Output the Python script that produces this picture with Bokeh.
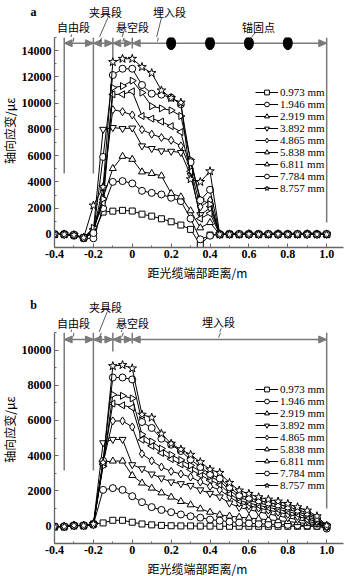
import math
from bokeh.plotting import figure
from bokeh.layouts import column, row
from bokeh.models import FixedTicker
from bokeh.core.properties import value
from bokeh.embed import file_html
from bokeh.resources import INLINE

# ---------------- data ----------------
distance = [-0.4, -0.35, -0.3, -0.25, -0.2, -0.15, -0.1, -0.05, 0.0, 0.05, 0.1, 0.15, 0.2,
            0.25, 0.3, 0.35, 0.4, 0.45, 0.5, 0.55, 0.6, 0.65, 0.7, 0.75, 0.8, 0.85, 0.9, 0.95, 1.0]

labels = ["0.973 mm", "1.946 mm", "2.919 mm", "3.892 mm", "4.865 mm",
          "5.838 mm", "6.811 mm", "7.784 mm", "8.757 mm"]

# panel a
a_0973 = [0, 0, -50, -250, 100, 1700, 1770, 1830, 1780, 1540, 1390, 1190, 960, 710, 380, -800, -50, 0,
          20, 0, 20, 0, 0, 20, 0, 0, 20, 0, 0]
a_1946 = [0, 0, -100, -300, -300, 2000, 4000, 4060, 3880, 3320, 3160, 3040, 2790, 2530, 1200, -380, -100, 0,
          0, 20, 0, 0, 20, 0, 0, 20, 0, 0, 20]
a_2919 = [0, 0, -50, -250, 200, 2800, 5020, 5950, 5720, 4760, 4640, 4460, 3120, 2860, 1800, 500, 900, 0,
          0, 0, 20, 0, 0, 20, 0, 0, 20, 0, 0]
a_3892 = [0, 0, -50, -250, 300, 8000, 8140, 8060, 8100, 6740, 6540, 6360, 6330, 6240, 4500, 1500, 2000, 0,
          20, 0, 0, 20, 0, 0, 20, 0, 0, 20, 0]
a_4865 = [0, 0, -50, -250, 200, 3600, 9500, 9350, 9100, 7980, 7630, 7380, 7170, 6740, 5000, 2100, 2600, 0,
          0, 20, 0, 0, 20, 0, 0, 20, 0, 0, 20]
a_5838 = [0, 0, -50, -250, 400, 2400, 10670, 10670, 10900, 9020, 8820, 8590, 8240, 7800, 4800, 1200, 1600, 0,
          0, 0, 20, 0, 0, 20, 0, 0, 20, 0, 0]
a_6811 = [0, 0, -50, -250, 500, 2700, 11180, 11300, 11710, 10800, 9760, 9600, 9450, 9020, 5700, 2700, 2300, 0,
          20, 0, 0, 20, 0, 0, 20, 0, 0, 20, 0]
a_7784 = [0, 0, -50, -250, 100, 5900, 12140, 12620, 12620, 11380, 10720, 10650, 10420, 9910, 5500, 2600, 3400, 0,
          0, 20, 0, 0, 20, 0, 0, 20, 0, 0, 20]
a_8757 = [0, 0, -50, -250, 2200, 3600, 13130, 13380, 13380, 12750, 12290, 10970, 10390, 10040, 4200, 4000, 4810, 0,
          0, 0, 20, 0, 0, 20, 0, 0, 20, 0, 0]

# panel b
b_0973 = [-40, -40, 20, 20, 110, 170, 320, 320, 210, 110, 60, 30, 10, 0, 0, -10, -10, -20, -20, -20,
          -20, -20, -20, -20, -20, -20, -20, -20, -30]
b_1946 = [-40, -40, 20, 20, 80, 2050, 2150, 2050, 1690, 1350, 1070, 910, 780, 650, 550, 470, 360, 300, 240, 190,
          150, 120, 100, 80, 60, 40, 20, 0, -150]
b_2919 = [-40, -40, 20, 20, 80, 3630, 3690, 3690, 2870, 2440, 2150, 1880, 1640, 1390, 1200, 970, 780, 630, 560, 500,
          450, 400, 350, 300, 250, 190, 130, 70, 0]
b_3892 = [-40, -40, 20, 20, 80, 4730, 4920, 4920, 3480, 3250, 2950, 2720, 2500, 2400, 2300, 2050, 1850, 1650, 1300, 1050,
          930, 800, 680, 570, 460, 360, 260, 150, -80]
b_4865 = [-40, -40, 20, 20, 80, 3600, 5970, 5970, 5630, 4100, 3700, 3350, 3100, 2950, 2780, 2500, 2250, 2050, 1650, 1300,
          1150, 1020, 900, 780, 660, 540, 400, 240, -50]
b_5838 = [-40, -40, 20, 20, 80, 3500, 6960, 6860, 6730, 4900, 4550, 4150, 3800, 3500, 3210, 2900, 2600, 2350, 1850, 1450,
          1300, 1170, 1050, 940, 820, 680, 520, 320, -20]
b_6811 = [-40, -40, 20, 20, 80, 3400, 7470, 7400, 7250, 5200, 4800, 4400, 4050, 3750, 3440, 3100, 2800, 2550, 2050, 1600,
          1450, 1300, 1180, 1060, 940, 790, 630, 400, 0]
b_7784 = [-40, -40, 20, 20, 80, 3700, 8440, 8440, 8330, 5910, 5570, 4960, 4620, 4260, 3780, 3350, 2950, 2700, 2200, 1750,
          1600, 1450, 1330, 1220, 1100, 920, 750, 450, -20]
b_8757 = [-40, -40, 20, 20, 110, 3600, 9090, 9150, 8960, 6330, 6160, 5250, 4680, 4350, 4050, 3630, 3210, 3020, 2450, 2015,
          1825, 1635, 1500, 1390, 1255, 1065, 875, 552, 20]

x_ticks = [-0.4, -0.2, 0.0, 0.2, 0.4, 0.6, 0.8, 1.0]
x_tick_labels = ["-0.4", "-0.2", "0", "0.2", "0.4", "0.6", "0.8", "1.0"]
x_minor_ticks = [-0.3, -0.1, 0.1, 0.3, 0.5, 0.7, 0.9]
a_y_ticks = [0, 2000, 4000, 6000, 8000, 10000, 12000, 14000]
a_y_minor = [-1000, 1000, 3000, 5000, 7000, 9000, 11000, 13000, 15000]
b_y_ticks = [0, 2000, 4000, 6000, 8000, 10000]
b_y_minor = [-1000, 1000, 3000, 5000, 7000, 9000, 11000]

segment_bounds = [-0.35, -0.2, -0.1, 0.0, 1.0]
anchor_points = [0.2, 0.4, 0.6, 0.8]

x_title = "距光缆端部距离/m"
y_title = "轴向应变/με"

series_a = [a_0973, a_1946, a_2919, a_3892, a_4865, a_5838, a_6811, a_7784, a_8757]
series_b = [b_0973, b_1946, b_2919, b_3892, b_4865, b_5838, b_6811, b_7784, b_8757]

# ---------------- styles ----------------
markers = ["square", "circle", "triangle", "inverted_triangle", "diamond",
           "triangle", "triangle", "circle", "star"]
angles = [0, 0, 0, 0, 0, math.pi / 2, -math.pi / 2, 0, 0]
sizes = [6, 7, 7, 7, 8, 7, 7, 7, 9]

W = 348
YLAB_W = 18          # strip holding the rotated y title
YLAB_X = 9.3
FRAME_LEFT = 51      # absolute pixel of the left axis
AXIS_PAD = FRAME_LEFT - YLAB_W
FRAME_RIGHT_PAD = 5
BOTTOM_PAD = 17
X0 = -0.4
XPX = 1.4 / 275.0
frame_w = W - FRAME_LEFT - FRAME_RIGHT_PAD
X_END = X0 + frame_w * XPX
GRAY = "#7a7a7a"
SERIF = "Liberation Serif"
CJK = "Noto Sans CJK SC"


def bare(width, height):
    f = figure(width=width, height=height, x_range=(0, width), y_range=(height, 0),
               x_axis_type=None, y_axis_type=None, output_backend="svg", toolbar_location=None,
               min_border=0, min_border_left=0, min_border_right=0, min_border_top=0,
               min_border_bottom=0)
    f.outline_line_color = None
    f.grid.visible = False
    return f


def split_leader(seg, cut):
    x0, y0, x1, y1 = seg
    t = (cut - y0) / (y1 - y0)
    xc = x0 + t * (x1 - x0)
    return (x0, y0, xc, cut), (xc, cut, x1, y1)


def make_header(ann):
    hh = ann["header_h"]
    h = bare(W, hh)
    parts = [split_leader(s, hh)[0] for s in ann["leaders"]]
    h.segment(x0=[s[0] for s in parts], y0=[s[1] for s in parts], x1=[s[2] for s in parts],
              y1=[s[3] for s in parts], line_color="#333333", line_width=0.8)
    h.text(x=[t[1] for t in ann["texts"]], y=[t[2] for t in ann["texts"]],
           text=[t[0] for t in ann["texts"]], text_font=value(CJK), text_font_size="11px",
           text_align="center", text_baseline="middle", text_color="black")
    h.text(x=[33], y=[ann["letter_y"]], text=[ann["letter"]], text_font=value(SERIF),
           text_font_style="bold", text_font_size="12px", text_align="center", text_baseline="middle")
    return h


def make_ylabel(height, yc):
    f = bare(YLAB_W, height)
    f.text(x=[YLAB_X], y=[yc], text=[y_title], text_font=value(CJK), text_font_size="12px",
           angle=math.pi / 2, text_align="center", text_baseline="middle", text_color="black")
    return f


def make_footer(height, yc):
    f = bare(W, height)
    f.text(x=[(FRAME_LEFT + W - FRAME_RIGHT_PAD) / 2], y=[yc], text=[x_title], text_font=value(CJK),
           text_font_size="12px", text_align="center", text_baseline="middle", text_color="black")
    return f


def make_panel(series, ann, y_top, y_ticks, y_minor, legend_pos):
    y0 = -1000
    hh = ann["header_h"]
    frame_h = ann["frame_bottom"] - hh
    ypx = (y_top - y0) / frame_h

    def fx(px):
        return X0 + (px - FRAME_LEFT) * XPX

    def fy(py):
        return y_top - (py - hh) * ypx

    p = figure(width=W - YLAB_W, height=frame_h + BOTTOM_PAD, x_range=(X0, X_END), y_range=(y0, y_top),
               output_backend="svg", toolbar_location=None,
               min_border_left=AXIS_PAD, min_border_right=FRAME_RIGHT_PAD,
               min_border_top=0, min_border_bottom=BOTTOM_PAD)
    p.outline_line_color = None
    p.grid.visible = False
    p.background_fill_color = "white"

    xa = p.xaxis[0]
    xa.ticker = FixedTicker(ticks=x_ticks, minor_ticks=x_minor_ticks)
    xa.major_label_overrides = dict(zip(x_ticks, x_tick_labels))
    xa.bounds = (X0, X_END)
    ya = p.yaxis[0]
    ya.ticker = FixedTicker(ticks=y_ticks, minor_ticks=y_minor)
    ya.bounds = (y0, y_top)
    for ax in (xa, ya):
        ax.axis_line_color = "#666666"
        ax.axis_line_width = 1.3
        ax.major_tick_line_color = "#666666"
        ax.minor_tick_line_color = "#666666"
        ax.major_tick_in = 4
        ax.major_tick_out = 0
        ax.minor_tick_in = 2
        ax.minor_tick_out = 0
        ax.major_label_text_font = SERIF
        ax.major_label_text_font_style = "bold"
        ax.major_label_text_font_size = "12px"
        ax.major_label_text_color = "black"
    xa.major_label_standoff = 2
    ya.major_label_standoff = 3

    # dimension line with boundaries
    y_dim = fy(ann["dim_y"])
    p.segment(x0=[segment_bounds[0]], y0=[y_dim], x1=[segment_bounds[-1]], y1=[y_dim],
              line_color=GRAY, line_width=1.5)
    vx = [b for b, _ in ann["verticals"]]
    vy0 = [y_top for _ in ann["verticals"]]
    vy1 = [fy(bm) for _, bm in ann["verticals"]]
    p.segment(x0=vx, y0=vy0, x1=vx, y1=vy1, line_color=GRAY, line_width=1.5)
    L = 8 * XPX
    h = 3.5 * ypx
    txs, tys = [], []
    for a, b in zip(segment_bounds[:-1], segment_bounds[1:]):
        txs.append([a, a + L, a + L]); tys.append([y_dim, y_dim + h, y_dim - h])
        txs.append([b, b - L, b - L]); tys.append([y_dim, y_dim + h, y_dim - h])
    p.patches(xs=txs, ys=tys, fill_color=GRAY, line_color=GRAY)
    if ann.get("anchors"):
        p.ellipse(x=anchor_points, y=[y_dim] * len(anchor_points), width=9 * XPX, height=13 * ypx,
                  fill_color="black", line_color="black")
    parts = [split_leader(s, hh)[1] for s in ann["leaders"]]
    p.segment(x0=[fx(s[0]) for s in parts], y0=[fy(s[1]) for s in parts],
              x1=[fx(s[2]) for s in parts], y1=[fy(s[3]) for s in parts],
              line_color="#333333", line_width=0.8)

    # data
    for i, ys in enumerate(series):
        p.line(distance, ys, line_color="black", line_width=1, legend_label=labels[i])
        p.scatter(distance, ys, marker=markers[i], angle=angles[i], size=sizes[i],
                  line_color="black", fill_color="white", line_width=1, legend_label=labels[i])

    lg = p.legend[0]
    lg.location = legend_pos
    lg.background_fill_color = "white"
    lg.background_fill_alpha = 1.0
    lg.border_line_color = None
    lg.label_text_font = SERIF
    lg.label_text_font_size = "11px"
    lg.label_text_color = "black"
    lg.glyph_width = 23
    lg.glyph_height = 12
    lg.label_height = 12
    lg.spacing = 0
    lg.padding = 2
    lg.margin = 0
    lg.label_standoff = 2
    return p


# annotation geometry (pixels, measured from the top of each panel)
ann_a = dict(
    header_h=37, frame_bottom=247, dim_y=42.7,
    verticals=[(-0.35, 173), (-0.2, 173), (-0.1, 57), (0.0, 48), (1.0, 222)],
    anchors=True,
    leaders=[(71, 34, 70, 41), (107.5, 17, 97, 41), (123, 32, 120, 41), (161, 17, 155, 41), (255, 32, 248, 40)],
    texts=[("自由段", 73, 26), ("夹具段", 105, 11), ("悬空段", 132, 26), ("埋入段", 169, 11), ("锚固点", 258, 26)],
    letter="a", letter_y=11,
)
ann_b = dict(
    header_h=46, frame_bottom=257, dim_y=53,
    verticals=[(-0.35, 184), (-0.2, 184), (-0.1, 65), (0.0, 57), (1.0, 222)],
    anchors=False,
    leaders=[(71, 43, 70, 50), (106.7, 25.3, 96.7, 50.3), (121.7, 43, 119, 50.3), (220.7, 42, 216.7, 51)],
    texts=[("自由段", 73, 36.3), ("夹具段", 105, 20.3), ("悬空段", 132, 36.3), ("埋入段", 218, 35.3)],
    letter="b", letter_y=18.7,
)

PANEL_A_H = 286
ha = make_header(ann_a)
pa = make_panel(series_a, ann_a, 15000, a_y_ticks, a_y_minor, (201, 53))
row_h_a = 247 - 37 + BOTTOM_PAD
ra = row(make_ylabel(row_h_a, 138 - 37), pa, spacing=0)
fa = make_footer(PANEL_A_H - 37 - row_h_a, 272 - (37 + row_h_a))

hb = make_header(ann_b)
pb = make_panel(series_b, ann_b, 11000, b_y_ticks, b_y_minor, (201, 52))
row_h_b = 257 - 46 + BOTTOM_PAD
rb = row(make_ylabel(row_h_b, 151 - 46), pb, spacing=0)
foot_b_h = 576 - PANEL_A_H - 46 - row_h_b
fb = make_footer(foot_b_h, foot_b_h / 2)

layout = column(ha, ra, fa, hb, rb, fb, spacing=0)
open("out.html", "w").write(file_html(layout, INLINE))
